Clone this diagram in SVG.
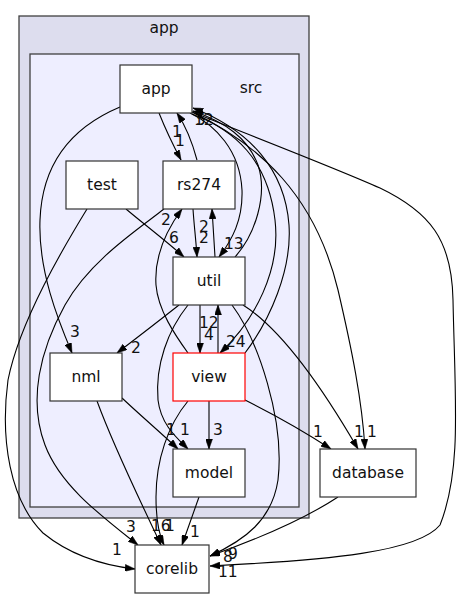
<svg xmlns="http://www.w3.org/2000/svg" width="464" height="599" viewBox="0 0 464 599">
<defs>
<style>
.clo{fill:#ddddee;stroke:#404040;stroke-width:1.3}
.cli{fill:#eeeeff;stroke:#404040;stroke-width:1.3}
.nd rect{fill:#ffffff;stroke:#333333;stroke-width:1.2}
.nd text,.cl text{font-family:"DejaVu Sans",sans-serif;font-size:15.5px;fill:#111;text-anchor:middle}
#connectors path{fill:none;stroke:#000;stroke-width:1.1;marker-end:url(#ah)}
#connectors text{font-family:"DejaVu Sans",sans-serif;font-size:15.5px;fill:#111}
</style>
<marker id="ah" viewBox="0 0 10 7" refX="10" refY="3.5" markerWidth="10" markerHeight="7" markerUnits="userSpaceOnUse" orient="auto">
<path d="M0,0 L10,3.5 L0,7 z" fill="#000" stroke="#000" stroke-width="0.5"/>
</marker>
</defs>
<rect width="464" height="599" fill="#ffffff"/>
<g id="cluster_app" class="cl">
<rect class="clo" x="19" y="16" width="290" height="502"/>
<text x="164" y="33">app</text>
</g>
<g id="cluster_src" class="cl">
<rect class="cli" x="30" y="54" width="269" height="453"/>
<text x="251" y="93">src</text>
</g>
<g id="connectors">
<path d="M159,113 C165,128 172,143 181,160"/>
<text x="175" y="146">1</text>
<path d="M197,160 C193,145 187,128 177,113"/>
<text x="172" y="137">1</text>
<path d="M120,107 C70,128 42,165 40,220 C38,270 58,320 72,353"/>
<text x="70" y="337">3</text>
<path d="M126,209 C145,225 165,240 184,257"/>
<text x="169" y="243">6</text>
<path d="M87,209 C65,245 20,320 8,380 C0,440 10,500 43,533 C70,555 100,565 135,569"/>
<text x="112" y="555">1</text>
<path d="M164,209 C140,228 90,260 65,305 C40,350 28,400 45,445 C60,485 100,515 138,545"/>
<text x="126" y="532">3</text>
<path d="M188,353 C175,335 158,310 156,285 C154,255 168,228 182,209"/>
<text x="161" y="225">2</text>
<path d="M193,209 C194,225 196,240 197,257"/>
<text x="199" y="243">2</text>
<path d="M215,257 C214,240 213,225 212,209"/>
<text x="199" y="232">2</text>
<path d="M190,113 C215,125 240,150 242,190 C243,220 232,240 219,257"/>
<text x="224" y="249">13</text>
<path d="M235,257 C255,235 268,195 258,165 C248,138 225,122 193,111"/>
<text x="196" y="125">5</text>
<text x="194" y="125">12</text>
<path d="M192,114 C235,130 268,160 275,220 C281,270 255,320 220,353"/>
<text x="226" y="347">24</text>
<path d="M245,353 C270,320 292,270 289,225 C285,170 250,130 193,108"/>
<path d="M200,305 L200,353"/>
<text x="204" y="340">4</text>
<path d="M218,353 L218,305"/>
<text x="199" y="328">12</text>
<path d="M179,305 C160,320 138,337 117,353"/>
<text x="131" y="353">2</text>
<path d="M188,305 C168,330 155,365 158,400 C161,425 177,438 188,449"/>
<text x="180" y="435">1</text>
<path d="M122,398 C140,415 160,432 178,449"/>
<text x="166" y="435">1</text>
<path d="M209,401 L209,449"/>
<text x="213" y="435">3</text>
<path d="M245,400 C275,415 305,432 331,449"/>
<text x="313" y="437">1</text>
<path d="M243,305 C275,325 315,375 358,449"/>
<text x="354" y="437">1</text>
<path d="M192,112 C260,145 315,195 338,290 C352,350 362,400 365,449"/>
<text x="367" y="437">1</text>
<path d="M192,112 C270,143 340,170 380,188 C430,212 452,240 453,300 C455,400 462,470 440,525 C418,552 330,560 210,566"/>
<text x="218" y="577">11</text>
<path d="M232,305 C258,340 285,420 278,480 C272,520 245,540 210,556"/>
<text x="223" y="562">8</text>
<path d="M338,497 C300,522 255,540 210,556"/>
<text x="228" y="559">9</text>
<path d="M199,497 L182,545"/>
<text x="190" y="537">1</text>
<path d="M97,401 C115,450 140,500 161,545"/>
<text x="165" y="531">1</text>
<path d="M188,401 C168,425 156,460 156,497 C156,520 159,535 164,545"/>
<text x="151" y="531">16</text>
</g>
<g id="node_app" class="nd"><rect x="120" y="65" width="72" height="48"/><text x="156" y="94">app</text></g>
<g id="node_test" class="nd"><rect x="66" y="161" width="72" height="48"/><text x="102" y="190">test</text></g>
<g id="node_rs274" class="nd"><rect x="163" y="161" width="72" height="48"/><text x="199" y="190">rs274</text></g>
<g id="node_util" class="nd"><rect x="173" y="257" width="72" height="48"/><text x="209" y="286">util</text></g>
<g id="node_nml" class="nd"><rect x="50" y="353" width="72" height="48"/><text x="86" y="382">nml</text></g>
<g id="node_view" class="nd"><rect x="173" y="353" width="72" height="48" style="stroke:#ff0000"/><text x="209" y="382">view</text></g>
<g id="node_model" class="nd"><rect x="173" y="449" width="72" height="48"/><text x="209" y="478">model</text></g>
<g id="node_database" class="nd"><rect x="320" y="449" width="96" height="48"/><text x="368" y="478">database</text></g>
<g id="node_corelib" class="nd"><rect x="135" y="545" width="74" height="48"/><text x="172" y="574">corelib</text></g>
</svg>
